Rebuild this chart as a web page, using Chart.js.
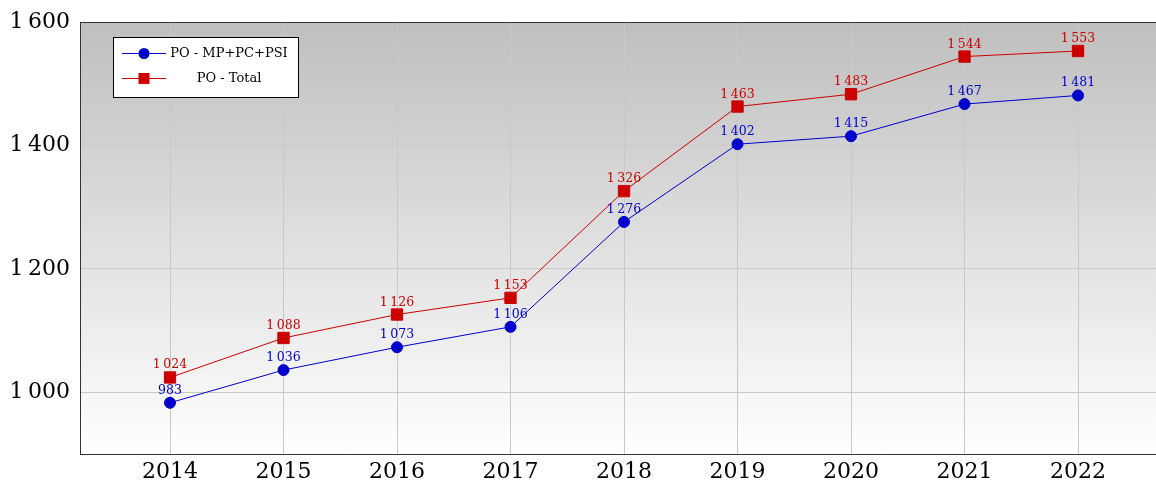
<!DOCTYPE html>
<html>
<head>
<meta charset="utf-8">
<script src="https://cdn.jsdelivr.net/npm/chart.js@4/dist/chart.umd.min.js"></script>
<style>
html,body{margin:0;padding:0;background:#fff;overflow:hidden;}
#wrap{width:1156px;height:484px;position:relative;}
canvas{display:block;}
</style>
</head>
<body>
<div id="wrap"><canvas id="c" width="1156" height="484"></canvas></div>
<script>
const years = [2014, 2015, 2016, 2017, 2018, 2019, 2020, 2021, 2022];
const seriesMP = [983, 1036, 1073, 1106, 1276, 1402, 1415, 1467, 1481];
const seriesTotal = [1024, 1088, 1126, 1153, 1326, 1463, 1483, 1544, 1553];
const seriesNames = ['PO - MP+PC+PSI', 'PO - Total'];
const yTicks = [1000, 1200, 1400, 1600];

const SERIF = '"DejaVu Serif", serif';
function fmt(v){
  const s = String(Math.round(v));
  return s.length > 3 ? s.slice(0, s.length-3) + '\u2009' + s.slice(s.length-3) : s;
}

const bgPlugin = {
  id: 'bg',
  beforeDraw(chart){
    const {ctx, chartArea:a} = chart;
    const g = ctx.createLinearGradient(0, a.top, 0, a.bottom);
    g.addColorStop(0, '#bfbfbf');
    g.addColorStop(1, '#ffffff');
    ctx.save();
    ctx.fillStyle = g;
    ctx.fillRect(a.left, a.top, a.right - a.left, a.bottom - a.top);
    ctx.restore();
  },
  afterDraw(chart){
    const {ctx, chartArea:a} = chart;
    ctx.save();
    ctx.strokeStyle = '#333';
    ctx.lineWidth = 1;
    ctx.beginPath();
    ctx.moveTo(a.left, a.top + 0.5);
    ctx.lineTo(a.right, a.top + 0.5);
    ctx.stroke();
    ctx.restore();
  }
};

const labelPlugin = {
  id: 'vals',
  afterDatasetsDraw(chart){
    const ctx = chart.ctx;
    ctx.save();
    ctx.font = '12.5px ' + SERIF;
    ctx.textAlign = 'center';
    ctx.textBaseline = 'alphabetic';
    chart.data.datasets.forEach((ds, i) => {
      const meta = chart.getDatasetMeta(i);
      ctx.fillStyle = ds.borderColor;
      meta.data.forEach((pt, j) => {
        ctx.fillText(fmt(ds.data[j].y), pt.x, pt.y - 9);
      });
    });
    ctx.restore();
  }
};

const legendPlugin = {
  id: 'boxLegend',
  afterDraw(chart){
    const ctx = chart.ctx;
    const x0 = 113.5, y0 = 37.5, w = 185, h = 60;
    ctx.save();
    ctx.fillStyle = '#fff';
    ctx.fillRect(x0, y0, w, h);
    ctx.strokeStyle = '#000';
    ctx.lineWidth = 1;
    ctx.strokeRect(x0, y0, w, h);
    chart.data.datasets.forEach((ds, i) => {
      const y = 53 + i * 25;
      ctx.strokeStyle = ds.borderColor;
      ctx.lineWidth = 1;
      ctx.beginPath();
      ctx.moveTo(122, y + 0.5);
      ctx.lineTo(166, y + 0.5);
      ctx.stroke();
      ctx.fillStyle = ds.borderColor;
      if (ds.pointStyle === 'circle') {
        ctx.beginPath();
        ctx.arc(144, y + 0.5, 5.5, 0, Math.PI * 2);
        ctx.fill();
      } else {
        ctx.fillRect(138.5, y - 5, 11, 11);
      }
      ctx.fillStyle = '#000';
      ctx.font = '13px ' + SERIF;
      ctx.textAlign = 'center';
      ctx.textBaseline = 'middle';
      ctx.fillText(ds.label, 229, y + 1);
    });
    ctx.restore();
  }
};

new Chart(document.getElementById('c'), {
  type: 'line',
  data: {
    datasets: [
      {
        label: seriesNames[0],
        data: years.map((y, i) => ({x: y, y: seriesMP[i]})),
        borderColor: '#0000cc',
        backgroundColor: '#0000cc',
        borderWidth: 1,
        pointStyle: 'circle',
        pointRadius: 5.5,
        pointHoverRadius: 5.5,
        tension: 0
      },
      {
        label: seriesNames[1],
        data: years.map((y, i) => ({x: y, y: seriesTotal[i]})),
        borderColor: '#cc0000',
        backgroundColor: '#cc0000',
        borderWidth: 1,
        pointStyle: 'rect',
        pointRadius: 8,
        pointHoverRadius: 8,
        tension: 0
      }
    ]
  },
  options: {
    responsive: false,
    animation: false,
    events: [],
    layout: {autoPadding: false, padding: {top: 22, right: 0, bottom: 0, left: 0}},
    plugins: {legend: {display: false}, tooltip: {enabled: false}},
    scales: {
      x: {
        type: 'linear',
        min: 2013.207,
        max: 2022.687,
        afterBuildTicks(axis){ axis.ticks = years.map(v => ({value: v})); },
        afterFit(axis){ axis.height = 30; axis.paddingLeft = 0; axis.paddingRight = 0; },
        ticks: {
          callback: v => String(v),
          color: '#000',
          font: {family: SERIF, size: 22},
          padding: 5,
          maxRotation: 0,
          autoSkip: false
        },
        grid: {color: '#c8c8c8', lineWidth: 1, drawTicks: false},
        border: {color: '#333', width: 1}
      },
      y: {
        min: 900,
        max: 1600,
        afterBuildTicks(axis){ axis.ticks = yTicks.map(v => ({value: v})); },
        afterFit(axis){ axis.width = 80; axis.paddingTop = 0; axis.paddingBottom = 0; },
        ticks: {
          callback: v => fmt(v),
          color: '#000',
          font: {family: SERIF, size: 22},
          padding: 10
        },
        grid: {color: '#c8c8c8', lineWidth: 1, drawTicks: false},
        border: {color: '#333', width: 1}
      }
    }
  },
  plugins: [bgPlugin, labelPlugin, legendPlugin]
});
</script>
</body>
</html>
